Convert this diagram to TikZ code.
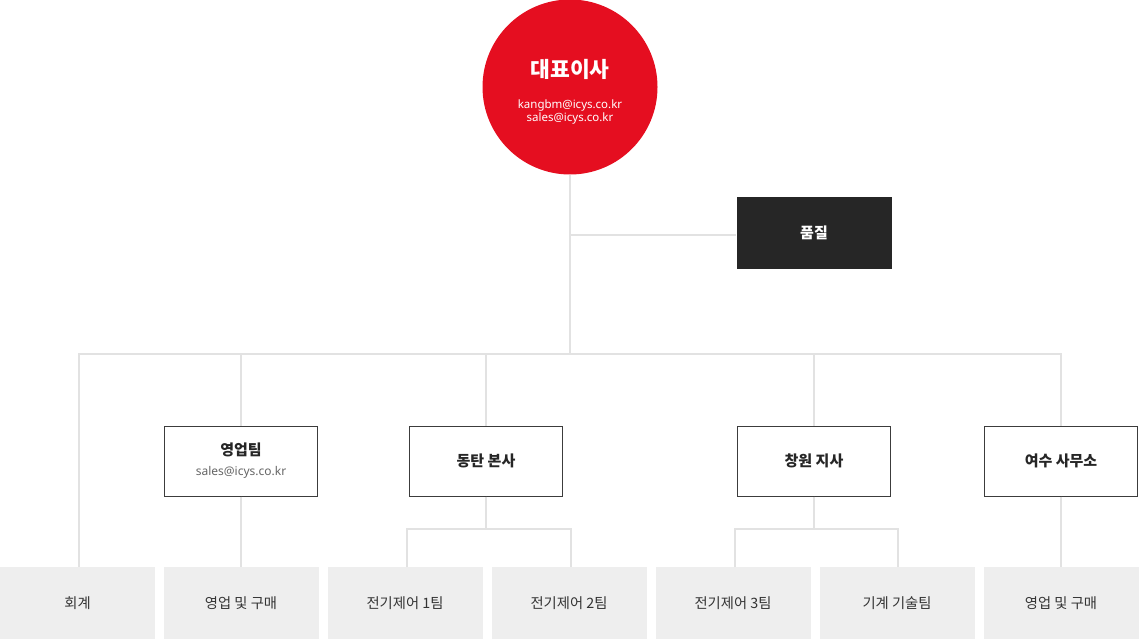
\documentclass[tikz,border=0pt]{standalone}
\usepackage{fontspec}
\setmainfont{Noto Sans}
\newfontfamily\kr{Noto Sans CJK KR}
\usetikzlibrary{positioning}
\definecolor{ceored}{HTML}{E50E20}
\definecolor{darkbox}{HTML}{262626}
\definecolor{linegray}{HTML}{E2E2E2}
\definecolor{cellgray}{HTML}{EEEEEE}
\definecolor{edgegray}{HTML}{3C3C3C}
\definecolor{mailgray}{HTML}{666666}

\begin{document}
\begin{tikzpicture}[x=1pt,y=-1pt,
  link/.style={draw=linegray, line width=2pt},
  dept/.style={draw=edgegray, line width=1pt, fill=white, minimum width=153pt, minimum height=70pt, inner sep=0pt, align=center, font=\kr\fontsize{15}{18}\selectfont\bfseries, text=black!85},
  team/.style={fill=cellgray, minimum width=155pt, minimum height=72pt, inner sep=0pt, font=\kr\fontsize{14.3}{17}\selectfont, text=black!80}]
\useasboundingbox (0,0) rectangle (1139,639);
% top:
\node[circle, fill=ceored, minimum size=175pt, inner sep=0pt] (ceo) at (570,87) {};
\node[text=white, font=\kr\fontsize{21.5}{25}\selectfont\bfseries] (ceotitle) at (570,69) {대표이사};
\node[text=white, font=\fontsize{11.5}{14}\selectfont, align=center] (ceomail) at (570,112) {kangbm@icys.co.kr\\[-1pt]sales@icys.co.kr};
\node[fill=darkbox, minimum width=155pt, minimum height=72pt, inner sep=0pt, text=white, font=\kr\fontsize{15}{18}\selectfont\bfseries] (qa) at (814,233) {품질};
% middle row:
\node[dept] (sales) at (241,461) {영업팀\\[2pt]{\normalfont\rmfamily\fontsize{12}{14}\selectfont\color{mailgray}sales@icys.co.kr}};
\node[dept] (dongtan) at (486,461) {동탄 본사};
\node[dept] (changwon) at (814,461) {창원 지사};
\node[dept] (yeosu) at (1061,461) {여수 사무소};
% bottom row:
\node[team] (acct) at (77.5,603) {회계};
\node[team] (buy1) at (241,603) {영업 및 구매};
\node[team] (ec1) at (405,603) {전기제어 1팀};
\node[team] (ec2) at (569,603) {전기제어 2팀};
\node[team] (ec3) at (733,603) {전기제어 3팀};
\node[team] (mech) at (897,603) {기계 기술팀};
\node[team] (buy2) at (1061,603) {영업 및 구매};
% connectors:
\coordinate (bus) at (570,354);
\coordinate (qaj) at (570,235);
\draw[link] (ceo.south) -- (bus);
\draw[link] (qaj) -- (qa.west |- qaj);
\draw[link] (acct.north -| 79,0) |- (bus) -| (yeosu.north);
\draw[link] (sales.north) -- (sales.north |- bus);
\draw[link] (dongtan.north) -- (dongtan.north |- bus);
\draw[link] (changwon.north) -- (changwon.north |- bus);
\draw[link] (sales.south) -- (buy1.north);
\draw[link] (yeosu.south) -- (buy2.north);
\draw[link] (dongtan.south) -- ++(0,32) coordinate (dj);
\draw[link] (407,567) |- (dj) -| (571,567);
\draw[link] (changwon.south) -- ++(0,32) coordinate (cj);
\draw[link] (735,567) |- (cj) -| (898,567);
\end{tikzpicture}
\end{document}
